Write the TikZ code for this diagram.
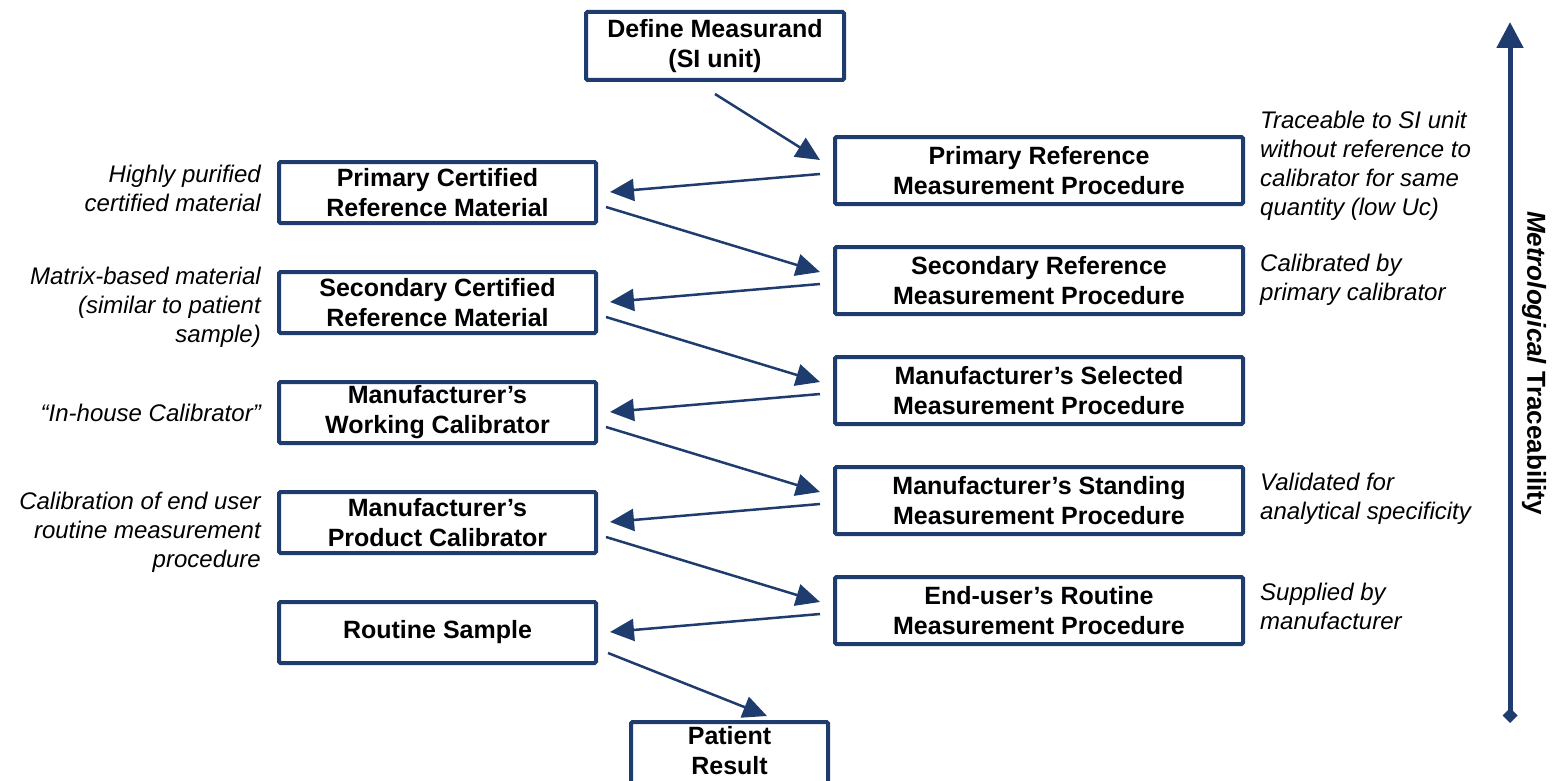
\documentclass[tikz,border=0pt]{standalone}
\usepackage{fontspec}
\setmainfont{Liberation Sans}
\usetikzlibrary{arrows.meta,calc}
\definecolor{navy}{HTML}{1F3C6E}
\begin{document}
\begin{tikzpicture}[x=1pt,y=-1pt,
  box/.style={draw=navy,line width=4pt,rounded corners=1.5pt,fill=white,
    inner sep=0pt,outer sep=0pt,align=center,
    font=\fontsize{25}{30}\selectfont\bfseries},
  lbox/.style={box,minimum width=317pt,minimum height=61pt},
  rbox/.style={box,minimum width=408pt,minimum height=67pt},
  link/.style={draw=navy,line width=2.5pt,-{Triangle[length=24pt,width=22pt]}},
  notel/.style={anchor=north east,inner sep=0pt,align=right,
    font=\fontsize{24}{29}\selectfont\itshape},
  noter/.style={anchor=north west,inner sep=0pt,align=left,
    font=\fontsize{24}{29}\selectfont\itshape},
]
\useasboundingbox (0,0) rectangle (1554,781);

% top of the chain
\node[box,minimum width=258pt,minimum height=68pt] (def) at (715,46)
  {Define Measurand\\(SI unit)};

% measurement procedures (right column)
\node[rbox] (r0) at (1039,170.5) {Primary Reference\\Measurement Procedure};
\node[rbox] (r1) at (1039,280.5) {Secondary Reference\\Measurement Procedure};
\node[rbox] (r2) at (1039,390.5) {Manufacturer’s Selected\\Measurement Procedure};
\node[rbox] (r3) at (1039,500.5) {Manufacturer’s Standing\\Measurement Procedure};
\node[rbox] (r4) at (1039,610.5) {End-user’s Routine\\Measurement Procedure};

% calibrators and materials (left column)
\node[lbox] (l0) at (437.5,192.5) {Primary Certified\\Reference Material};
\node[lbox] (l1) at (437.5,302.5) {Secondary Certified\\Reference Material};
\node[lbox] (l2) at (437.5,412.5) {Manufacturer’s\\Working Calibrator};
\node[lbox] (l3) at (437.5,522.5) {Manufacturer’s\\Product Calibrator};
\node[lbox] (l4) at (437.5,632.5) {Routine Sample};

% result box, running off the bottom edge
\node[box,draw=none,fill=none,minimum width=197pt,minimum height=57pt] (pat)
  at (729.5,750.5) {Patient\\Result};
\draw[navy,line width=4pt,rounded corners=1.5pt]
  (pat.north west) rectangle ($(pat.south east)+(0,30)$);

% connectors
\draw[link] ($(def.south)+(0,14)$) -- ($(r0.west)+(-15,-10.5)$);
\foreach \k in {0,...,4}{
  \draw[link] ($(r\k.west)+(-15,3.5)$) -- ($(l\k.east)+(14,-0.5)$);
}
\foreach \k/\n in {0/1,1/2,2/3,3/4}{
  \draw[link] ($(l\k.east)+(10,14.5)$) -- ($(r\n.west)+(-15,-8.5)$);
}
\draw[link] ($(l4.east)+(12,20.5)$) -- ($(pat.north)+(37.5,-6)$);

% side notes
\node[notel] (n0) at (261,164.5) {Highly purified\\certified material};
\node[notel] (n1) at (261,266.5) {Matrix-based material\\(similar to patient\\sample)};
\node[notel] (n2) at (261,403.5) {“In-house Calibrator”};
\node[notel] (n3) at (261,491.5) {Calibration of end user\\routine measurement\\procedure};

\node[noter] (m0) at (1260,110.5) {Traceable to SI unit\\without reference to\\calibrator for same\\quantity (low Uc)};
\node[noter] (m1) at (1260,253.5) {Calibrated by\\primary calibrator};
\node[noter] (m2) at (1260,472.5) {Validated for\\analytical specificity};
\node[noter] (m3) at (1260,582.5) {Supplied by\\manufacturer};

% traceability axis
\coordinate (axbot) at (1510,723);
\coordinate (axtop) at (1510,22);
\draw[navy,line width=5pt,{Diamond[length=15pt,width=15pt]}-{Triangle[length=26pt,width=26pt]}]
  (axbot) -- (axtop);
\node[rotate=-90,font=\fontsize{26}{30}\selectfont\bfseries] (axlabel) at (1534,363)
  {\textit{Metrological} Traceability};
\end{tikzpicture}
\end{document}
